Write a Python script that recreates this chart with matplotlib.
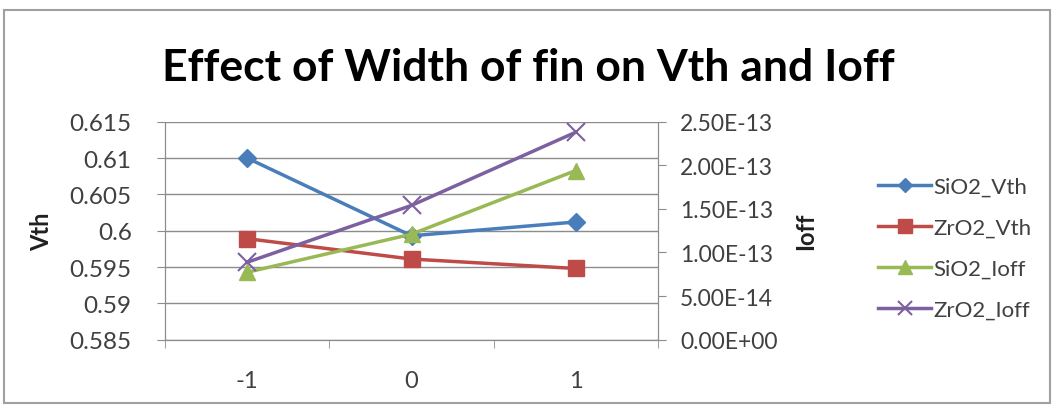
import matplotlib
matplotlib.use('Agg')
import matplotlib.pyplot as plt
from matplotlib.patches import Rectangle
from matplotlib.ticker import FixedLocator, FuncFormatter

plt.rcParams['font.family'] = ['Lato', 'DejaVu Sans']

# data
widths = [-1, 0, 1]
xLabels = ['-1', '0', '1']
sio2Vth = [0.6100, 0.5993, 0.6012]
zro2Vth = [0.5989, 0.5961, 0.5948]
sio2Ioff = [7.73e-14, 1.21e-13, 1.94e-13]
zro2Ioff = [8.88e-14, 1.54e-13, 2.38e-13]
vthTicks = [0.585, 0.59, 0.595, 0.6, 0.605, 0.61, 0.615]
vthTickLabels = ['0.585', '0.59', '0.595', '0.6', '0.605', '0.61', '0.615']
ioffTicks = [0, 5e-14, 1e-13, 1.5e-13, 2e-13, 2.5e-13]

clr = ['#4A7EBB', '#BE4B48', '#98B954', '#7D60A0']
gridClr = '#8c8c8c'
txtClr = '#404040'

fig = plt.figure(figsize=(10.57, 4.06), dpi=100)
# outer chart border
fig.patches.append(Rectangle((0.004, 0.005), 0.989, 0.968, transform=fig.transFigure,
                             fill=False, edgecolor='#a0a0a0', linewidth=1.5))

ax = fig.add_axes([165 / 1057, 1 - 340.7 / 406, 493 / 1057, 218 / 406])
ax2 = ax.twinx()

ax.set_xlim(-1.5, 1.5)
ax.set_ylim(0.585, 0.615)
ax2.set_ylim(0, 2.5e-13)

ax.set_yticks(vthTicks)
ax.set_yticklabels(vthTickLabels)
ax2.set_yticks(ioffTicks)
ax2.yaxis.set_major_formatter(FuncFormatter(lambda v, p: '{:.2E}'.format(v)))

ax.set_xticks(widths)
ax.set_xticklabels(xLabels)
ax.xaxis.set_minor_locator(FixedLocator([-1.5, -0.5, 0.5, 1.5]))
ax.tick_params(axis='x', which='major', length=0, labelsize=17, colors=txtClr, pad=22)
ax.tick_params(axis='x', which='minor', length=6, color=gridClr)
ax.tick_params(axis='y', length=6, color=gridClr, labelsize=17.5, labelcolor=txtClr, pad=18)
ax2.tick_params(axis='y', length=6, color=gridClr, labelsize=16.5, labelcolor=txtClr, pad=10)

for a in (ax, ax2):
    a.spines['top'].set_visible(False)
    for s in ('left', 'right', 'bottom'):
        a.spines[s].set_color(gridClr)
ax.yaxis.grid(True, color=gridClr, linewidth=1)
ax.set_axisbelow(True)

l1, = ax.plot(widths, sio2Vth, color=clr[0], marker='D', markersize=9, linewidth=2.5, label='SiO2_Vth')
l2, = ax.plot(widths, zro2Vth, color=clr[1], marker='s', markersize=12, linewidth=2.5, label='ZrO2_Vth')
l3, = ax2.plot(widths, sio2Ioff, color=clr[2], marker='^', markersize=12, linewidth=2.5, label='SiO2_Ioff')
l4, = ax2.plot(widths, zro2Ioff, color=clr[3], marker='x', markersize=13, markeredgewidth=1.5,
               linewidth=2.5, label='ZrO2_Ioff')

ax.set_ylabel('Vth', fontsize=17, fontweight='bold', color='#202020', labelpad=12)
ax2.set_ylabel('Ioff', fontsize=17, fontweight='bold', color='#202020', labelpad=12)

fig.text(0.5, 1 - 68 / 406, 'Effect of Width of fin on Vth and Ioff', ha='center', va='center',
         fontsize=32, fontweight='bold', color='black')

fig.legend(handles=[l1, l2, l3, l4], loc='center left', bbox_to_anchor=(858 / 1057, 1 - 249 / 406),
           frameon=False, fontsize=16, handlelength=2.4, labelspacing=0.95, handletextpad=0.1,
           labelcolor=txtClr, markerscale=0.8)

fig.savefig('out.png', dpi=100)
plt.close()
